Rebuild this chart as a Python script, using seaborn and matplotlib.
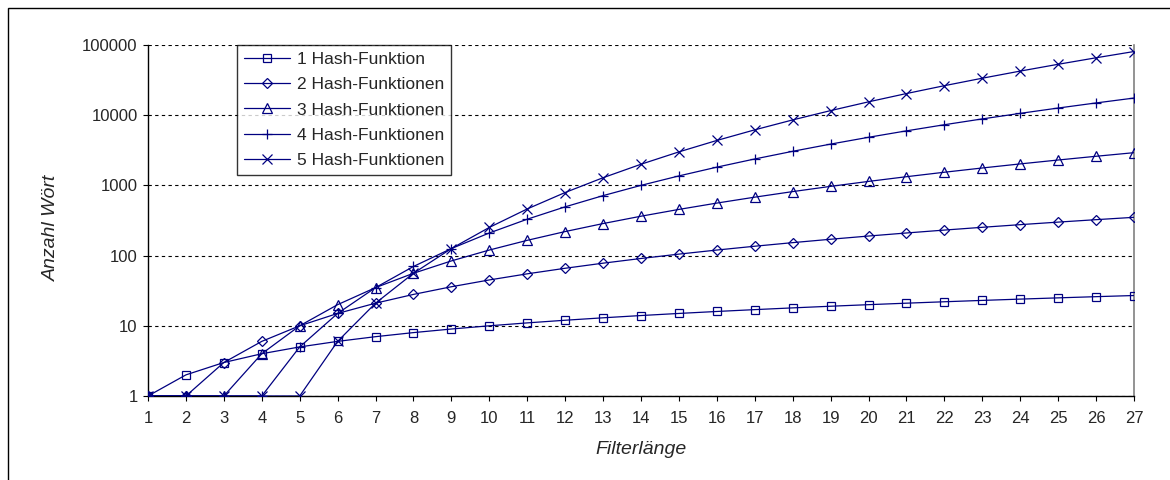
import matplotlib
matplotlib.use("Agg")
import matplotlib.pyplot as plt
import matplotlib.ticker as mticker
from matplotlib.patches import Rectangle
import seaborn as sns
import pandas as pd

# ---- data ----
filter_len = list(range(1, 28))
series_names = ["1 Hash-Funktion", "2 Hash-Funktionen", "3 Hash-Funktionen",
                "4 Hash-Funktionen", "5 Hash-Funktionen"]
h1 = [1, 2, 3, 4, 5, 6, 7, 8, 9, 10, 11, 12, 13, 14, 15, 16, 17, 18, 19, 20,
      21, 22, 23, 24, 25, 26, 27]
h2 = [1, 1, 3, 6, 10, 15, 21, 28, 36, 45, 55, 66, 78, 91, 105, 120, 136, 153,
      171, 190, 210, 231, 253, 276, 300, 325, 351]
h3 = [1, 1, 1, 4, 10, 20, 35, 56, 84, 120, 165, 220, 286, 364, 455, 560, 680,
      816, 969, 1140, 1330, 1540, 1771, 2024, 2300, 2600, 2925]
h4 = [1, 1, 1, 1, 5, 15, 35, 70, 126, 210, 330, 495, 715, 1001, 1365, 1820,
      2380, 3060, 3876, 4845, 5985, 7315, 8855, 10626, 12650, 14950, 17550]
h5 = [1, 1, 1, 1, 1, 6, 21, 56, 126, 252, 462, 792, 1287, 2002, 3003, 4368,
      6188, 8568, 11628, 15504, 20349, 26334, 33649, 42504, 53130, 65780, 80730]
y_ticks = [1, 10, 100, 1000, 10000, 100000]
x_label = "Filterlänge"
y_label = "Anzahl Wört"

# ---- style ----
sns.set_style("white")
plt.rcParams["font.family"] = ["Liberation Sans", "DejaVu Sans"]

navy = "#000080"
markers = ["s", "D", "^", "+", "x"]
msizes = [6, 5.2, 7, 7.5, 7]

fig = plt.figure(figsize=(11.7, 4.8), dpi=100)
ax = fig.add_axes([148 / 1170, 84 / 480, 986 / 1170, 351 / 480])

all_series = [h1, h2, h3, h4, h5]
for name, vals, mk, ms in zip(series_names, all_series, markers, msizes):
    df = pd.DataFrame({"x": filter_len, "y": vals})
    sns.lineplot(data=df, x="x", y="y", ax=ax, color=navy, linewidth=0.9,
                 marker=mk, markersize=ms, markerfacecolor="none",
                 markeredgecolor=navy, markeredgewidth=0.9, label=name,
                 zorder=3)

ax.set_yscale("log")
ax.set_ylim(1, 100000)
ax.set_xlim(1, 27)
ax.set_yticks(y_ticks)
ax.yaxis.set_major_formatter(mticker.FuncFormatter(lambda v, p: f"{int(round(v))}"))
ax.yaxis.set_minor_locator(mticker.NullLocator())
ax.set_xticks(filter_len)
ax.set_xticklabels([str(v) for v in filter_len])

ax.grid(True, axis="y", color="#000000", linestyle=(0, (3, 3)), linewidth=0.8)
ax.grid(False, axis="x")

for side in ["left", "bottom"]:
    ax.spines[side].set_color("black")
    ax.spines[side].set_linewidth(1.0)
ax.spines["right"].set_color("#808080")
ax.spines["right"].set_linewidth(1.2)
ax.spines["top"].set_visible(False)

ax.tick_params(axis="both", which="major", direction="out", length=3.5,
               width=0.8, color="black", labelsize=12, left=True, bottom=True)
ax.tick_params(axis="x", pad=7)
ax.tick_params(axis="y", pad=4)

ax.set_xlabel(x_label, fontsize=14, style="italic")
ax.set_ylabel(y_label, fontsize=14, style="italic")
ax.xaxis.set_label_coords(0.5, -0.128)
ax.yaxis.set_label_coords(-0.089, 0.479)

leg = ax.legend(loc="upper left", bbox_to_anchor=(0.09, 1.0),
                borderaxespad=0, frameon=True, fancybox=False, shadow=False,
                fontsize=12.5, handlelength=2.65, labelspacing=0.58,
                borderpad=0.4, handletextpad=0.42)
leg.get_frame().set_edgecolor("black")
leg.get_frame().set_linewidth(1.0)

# outer chart frame (clipped at right/bottom like the reference)
fig.patches.append(Rectangle((8 / 1170, -0.1), 1.2, 1.1 - 8 / 480,
                             transform=fig.transFigure, fill=False,
                             edgecolor="black", linewidth=1.0))

fig.savefig("out.png", dpi=100)
